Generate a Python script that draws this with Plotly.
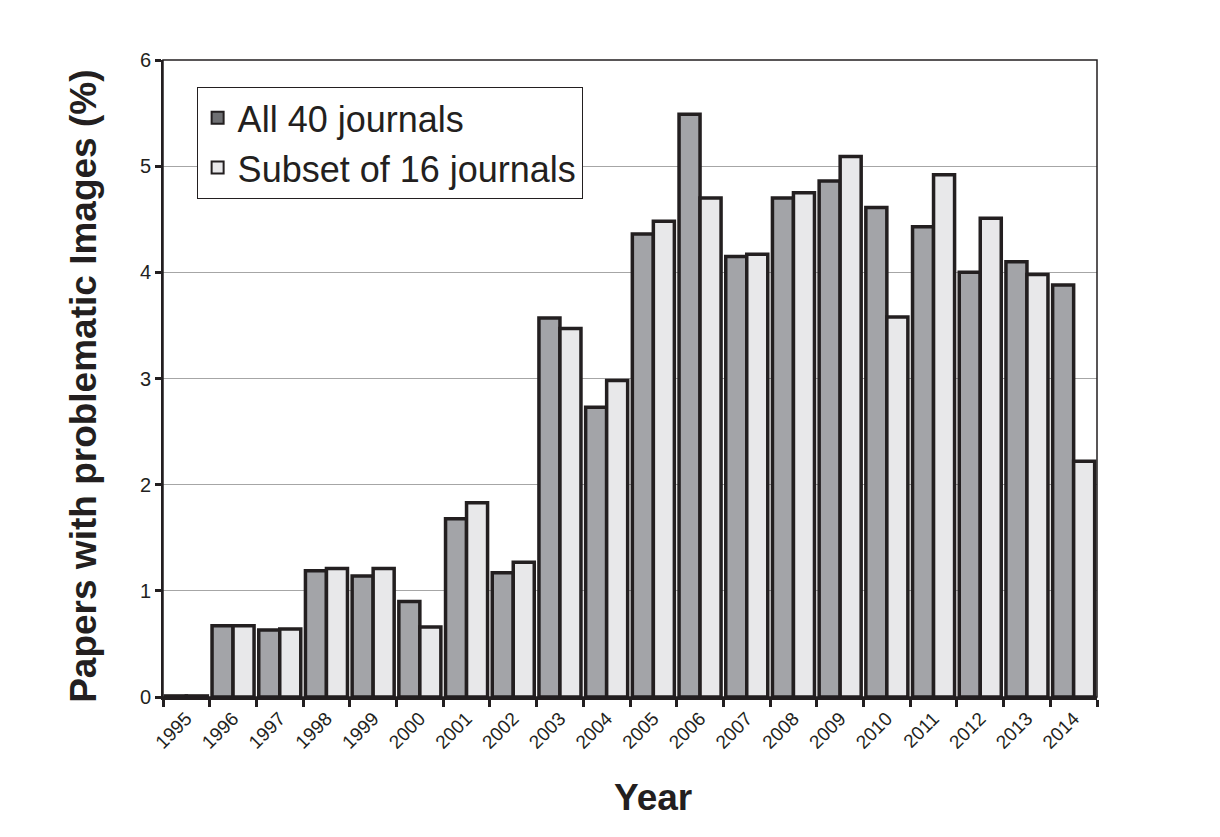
import plotly.graph_objects as go

years = [str(y) for y in range(1995, 2015)]
all_40 = [0.01, 0.67, 0.63, 1.19, 1.14, 0.90, 1.68, 1.17, 3.57, 2.73,
          4.36, 5.49, 4.15, 4.70, 4.86, 4.61, 4.43, 4.00, 4.10, 3.88]
subset_16 = [0.01, 0.67, 0.64, 1.21, 1.21, 0.66, 1.83, 1.27, 3.47, 2.98,
             4.48, 4.70, 4.17, 4.75, 5.09, 3.58, 4.92, 4.51, 3.98, 2.22]

INK = "#231f20"
GRAY = "#a3a4a8"
LIGHT = "#e8e8ea"

fig = go.Figure()
fig.add_trace(go.Bar(x=years, y=all_40, name="All 40 journals", offsetgroup="a",
                     marker=dict(color=GRAY, line=dict(color=INK, width=3.5)),
                     showlegend=False))
fig.add_trace(go.Bar(x=years, y=subset_16, name="Subset of 16 journals", offsetgroup="b",
                     marker=dict(color=LIGHT, line=dict(color=INK, width=3.5)),
                     showlegend=False))
# legend-only entries (darker swatch as in the original)
fig.add_trace(go.Bar(x=[None], y=[None], name="All 40 journals", offsetgroup="a",
                     marker=dict(color="#6f7073", line=dict(color=INK, width=1))))
fig.add_trace(go.Bar(x=[None], y=[None], name="Subset of 16 journals", offsetgroup="b",
                     marker=dict(color=LIGHT, line=dict(color=INK, width=1))))

fig.update_layout(
    width=1220, height=837,
    margin=dict(l=155, r=131, t=52, b=148),
    paper_bgcolor="white", plot_bgcolor="white",
    barmode="group", bargap=0.1, bargroupgap=0.0,
    font=dict(family="Liberation Sans, Arial", color=INK),
    legend=dict(x=0.036, y=0.958, xanchor="left", yanchor="top",
                bordercolor=INK, borderwidth=1, bgcolor="white",
                font=dict(size=36, color=INK), tracegroupgap=0,
                itemsizing="constant"),
    xaxis=dict(type="category", tickangle=-45, tickson="boundaries",
               ticks="outside", ticklen=7, tickwidth=3, tickcolor=INK,
               tickfont=dict(size=19, color=INK),
               showline=True, linecolor=INK, linewidth=3, mirror=False,
               showgrid=False),
    yaxis=dict(range=[0, 6], dtick=1, ticks="outside", ticklen=6, tickwidth=3,
               tickcolor=INK, tickfont=dict(size=20, color=INK),
               showline=True, linecolor=INK, linewidth=2,
               showgrid=True, gridcolor="#a6a6a6", gridwidth=1,
               zeroline=False),
    shapes=[dict(type="rect", xref="paper", yref="paper", x0=0, x1=1, y0=0, y1=1,
                 line=dict(color=INK, width=1.5), layer="above")],
    annotations=[
        dict(text="<b>Year</b>", xref="paper", yref="paper", x=0.525, y=-0.157,
             xanchor="center", yanchor="middle", showarrow=False,
             font=dict(size=37, color=INK)),
        dict(text="<b>Papers with problematic Images (%)</b>", xref="paper", yref="paper",
             x=-0.086, y=0.488, xanchor="center", yanchor="middle", textangle=-90,
             showarrow=False, font=dict(size=37, color=INK)),
    ],
)

fig.write_html("out.html")
